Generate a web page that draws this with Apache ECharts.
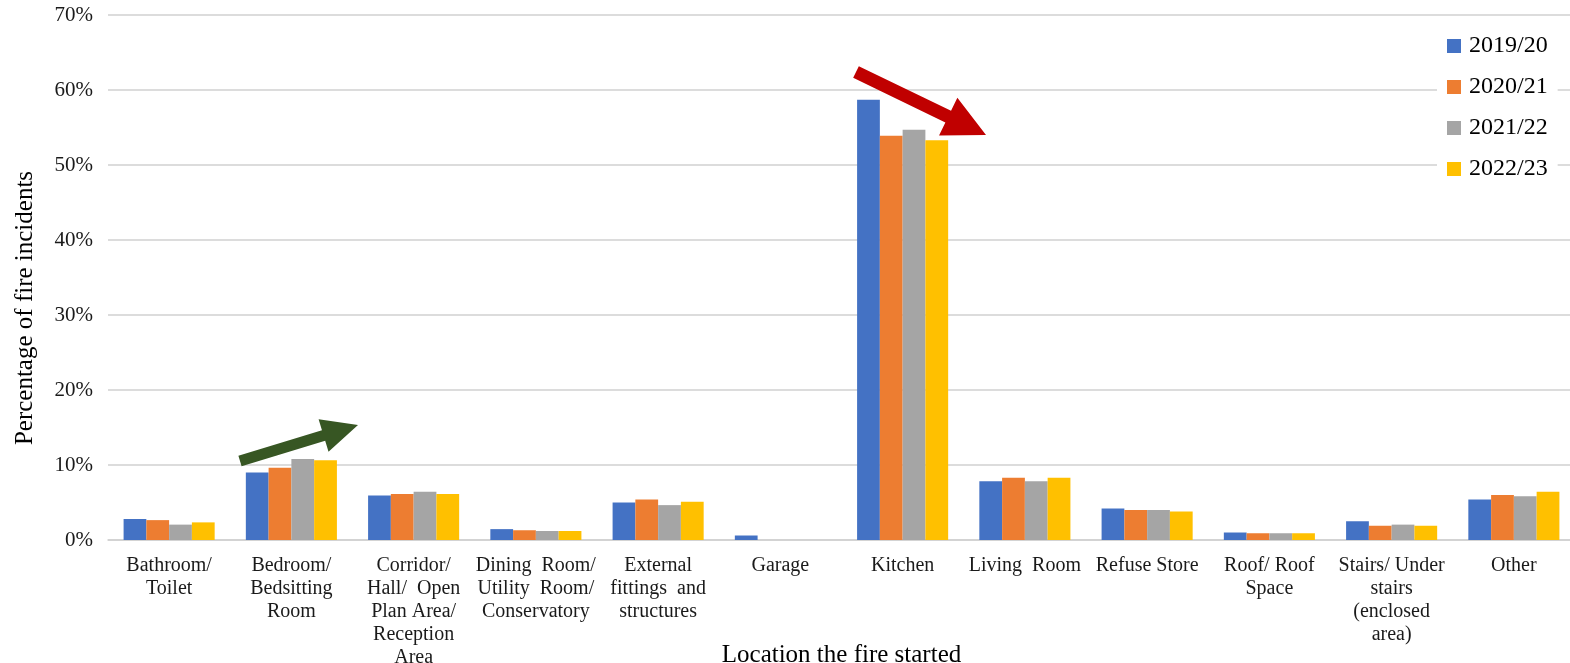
<!DOCTYPE html>
<html>
<head>
<meta charset="utf-8">
<script src="https://cdn.jsdelivr.net/npm/echarts@6/dist/echarts.min.js"></script>
<style>
  html, body { margin: 0; padding: 0; background: #fff; }
  #chart { width: 1570px; height: 663px; }
</style>
</head>
<body>
<div id="chart"></div>
<script>
// categories (line breaks as in the original labels)
const locations = [
  'Bathroom/\nToilet',
  'Bedroom/\nBedsitting\nRoom',
  'Corridor/\nHall/  Open\nPlan Area/\nReception\nArea',
  'Dining  Room/\nUtility  Room/\nConservatory',
  'External\nfittings  and\nstructures',
  'Garage',
  'Kitchen',
  'Living  Room',
  'Refuse Store',
  'Roof/ Roof\nSpace',
  'Stairs/ Under\nstairs\n(enclosed\narea)',
  'Other'
];
const years = ['2019/20', '2020/21', '2021/22', '2022/23'];

// percentage of fire incidents
const y2019 = [2.8, 9.0, 5.95, 1.45, 5.0, 0.6, 58.7, 7.85, 4.2, 1.0, 2.5, 5.4];
const y2020 = [2.65, 9.65, 6.15, 1.3, 5.4, 0, 53.9, 8.3, 4.0, 0.9, 1.9, 6.0];
const y2021 = [2.05, 10.8, 6.45, 1.2, 4.65, 0, 54.7, 7.85, 4.0, 0.9, 2.05, 5.85];
const y2022 = [2.35, 10.65, 6.15, 1.2, 5.1, 0, 53.3, 8.3, 3.8, 0.9, 1.9, 6.45];

const colors = ['#4472C4', '#ED7D31', '#A5A5A5', '#FFC000'];
const serif = '"Liberation Serif", "Times New Roman", serif';

// thick block arrow from tail to tip
function arrowPoints(tail, tip, shaftW, headL, headW) {
  const dx = tip[0] - tail[0], dy = tip[1] - tail[1];
  const len = Math.sqrt(dx * dx + dy * dy);
  const ux = dx / len, uy = dy / len;
  const nx = -uy, ny = ux;
  const bx = tip[0] - ux * headL, by = tip[1] - uy * headL;
  return [
    [tail[0] + nx * shaftW / 2, tail[1] + ny * shaftW / 2],
    [bx + nx * shaftW / 2, by + ny * shaftW / 2],
    [bx + nx * headW / 2, by + ny * headW / 2],
    tip,
    [bx - nx * headW / 2, by - ny * headW / 2],
    [bx - nx * shaftW / 2, by - ny * shaftW / 2],
    [tail[0] - nx * shaftW / 2, tail[1] - ny * shaftW / 2]
  ];
}

const chart = echarts.init(document.getElementById('chart'));
const seriesData = [y2019, y2020, y2021, y2022];

chart.setOption({
  animation: false,
  color: colors,
  textStyle: { fontFamily: serif },
  grid: { left: 108, top: 15, width: 1467, height: 525, outerBoundsMode: 'none', containLabel: false },
  legend: {
    orient: 'vertical',
    left: 1437,
    top: 30,
    padding: [4, 10, 4, 10],
    backgroundColor: '#fff',
    itemWidth: 14,
    itemHeight: 14,
    itemGap: 17,
    icon: 'rect',
    textStyle: { fontFamily: serif, fontSize: 24, color: '#000', padding: [0, 0, 0, 3] },
    data: years
  },
  xAxis: {
    type: 'category',
    data: locations,
    name: 'Location the fire started',
    nameLocation: 'middle',
    nameGap: 103,
    nameMoveOverlap: false,
    nameTextStyle: { fontFamily: serif, fontSize: 25, color: '#000' },
    axisLine: { lineStyle: { color: '#d0d0d0', width: 1.5 } },
    axisTick: { show: false },
    axisLabel: {
      interval: 0,
      margin: 14,
      fontFamily: serif,
      fontSize: 20,
      lineHeight: 23,
      color: '#1a1a1a'
    }
  },
  yAxis: {
    type: 'value',
    min: 0,
    max: 70,
    interval: 10,
    axisLine: { show: false },
    axisTick: { show: false },
    axisLabel: {
      formatter: '{value}%',
      margin: 15,
      fontFamily: serif,
      fontSize: 21,
      color: '#1a1a1a'
    },
    splitLine: { lineStyle: { color: '#d0d0d0', width: 1.5 } }
  },
  series: years.map(function (y, i) {
    return {
      name: y,
      type: 'bar',
      data: seriesData[i],
      barGap: '0%',
      barCategoryGap: '25.5%'
    };
  }),
  graphic: [
    {
      type: 'text',
      z: 100,
      x: 25, y: 308,
      rotation: Math.PI / 2,
      style: {
        text: 'Percentage of fire incidents',
        font: '25px ' + serif,
        fill: '#000',
        align: 'center',
        verticalAlign: 'middle'
      }
    },
    {
      type: 'polygon',
      z: 100,
      shape: { points: arrowPoints([240, 461], [358, 425], 11, 36, 34) },
      style: { fill: '#375623' }
    },
    {
      type: 'polygon',
      z: 100,
      shape: { points: arrowPoints([856, 72], [986, 135], 13, 42, 42) },
      style: { fill: '#C00000' }
    }
  ]
});
</script>
</body>
</html>
